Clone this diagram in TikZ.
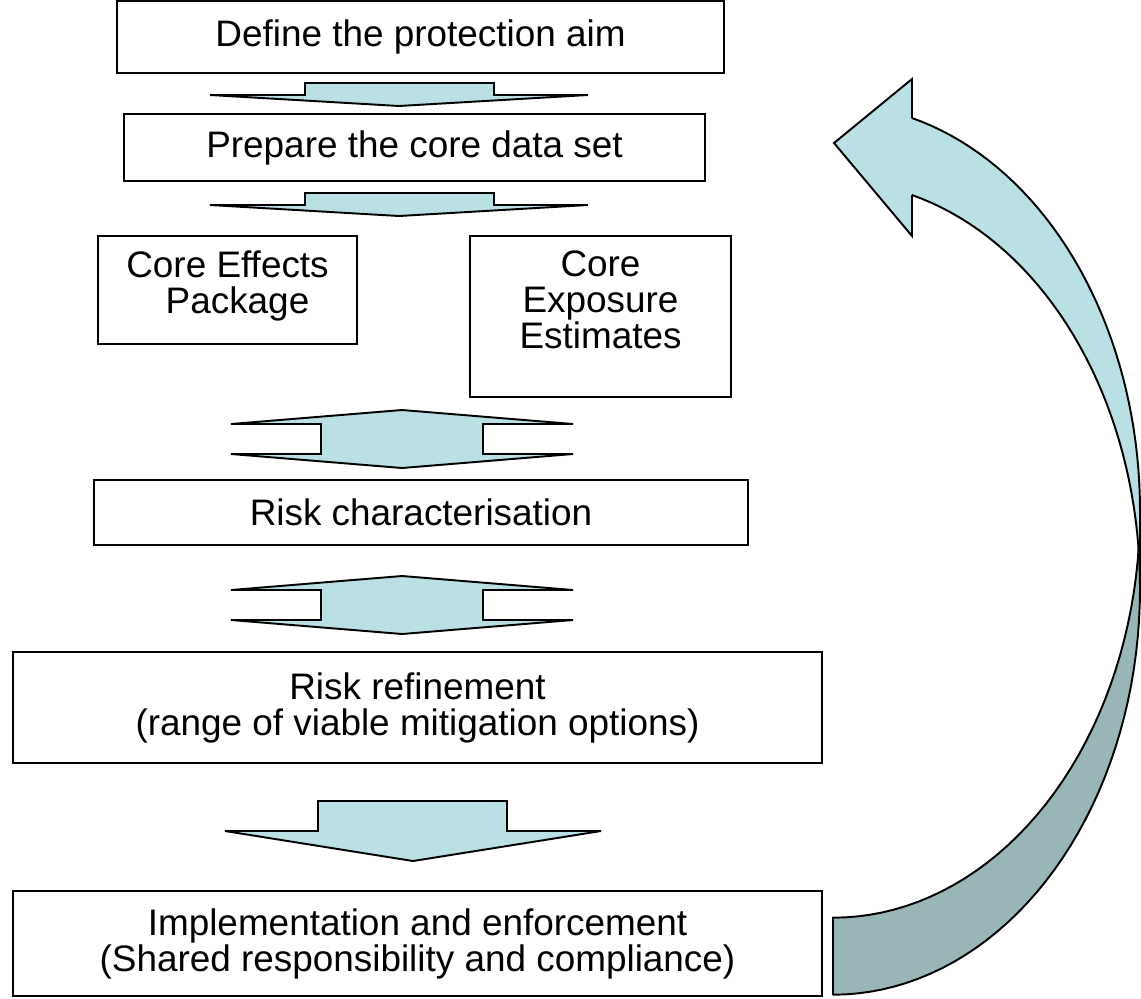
\documentclass[tikz,border=0pt]{standalone}
\usepackage{fontspec}
\setmainfont{Liberation Sans}
\usepackage{xcolor}
\usetikzlibrary{positioning}

\definecolor{arrowblue}{RGB}{185,224,228}
\definecolor{arrowgrey}{RGB}{152,181,183}

\tikzset{
	box/.style={draw=black, line width=1.1pt, fill=white, align=center, inner sep=0pt},
	boxtext/.style={align=center, inner sep=0pt},
	blockarrow/.style={draw=black, line width=1.1pt, fill=arrowblue, line join=miter},
	backarrow/.style={draw=black, line width=1.1pt, fill=arrowgrey},
}

\begin{document}
\begin{tikzpicture}[x=0.02cm, y=-0.02cm, font=\fontsize{21}{20.5}\selectfont]
	\fill[white] (0,0) rectangle (1141,998);
	\useasboundingbox (0,0) rectangle (1141,998);

	% steps of the procedure
	\node[box, minimum width=12.14cm, minimum height=1.44cm] (aim) at (420.5,37) {Define the protection aim};
	\node[box, minimum width=11.62cm, minimum height=1.34cm] (dataset) at (414.5,147.5) {Prepare the core data set};
	\node[box, minimum width=5.18cm, minimum height=2.16cm] (effects) at (227.5,290) {};
	\node[boxtext, below=0.31cm of effects.north] (effectstext) {Core Effects\\\hspace*{0.4cm}Package};
	\node[box, minimum width=5.22cm, minimum height=3.22cm] (exposure) at (600.5,316.5) {};
	\node[boxtext, below=0.31cm of exposure.north] (exposuretext) {Core\\Exposure\\Estimates};
	\node[box, minimum width=13.08cm, minimum height=1.30cm] (riskchar) at (421,512.5) {Risk characterisation};
	\node[box, minimum width=16.18cm, minimum height=2.22cm] (refine) at (417.5,707.5) {Risk refinement\\(range of viable mitigation options)};
	\node[box, minimum width=16.18cm, minimum height=2.10cm] (enforce) at (417.5,943.5) {Implementation and enforcement\\(Shared responsibility and compliance)};

	% flat arrows
	\foreach \y in {0,110}
		\draw[blockarrow, shift={(0,\y)}] (210,95) -- (305,95) -- (305,83) -- (494,83) -- (494,95) -- (588,95) -- (399,106) -- cycle;
	\foreach \y in {0,166}
		\draw[blockarrow, shift={(0,\y)}] (231,424) -- (402,410) -- (573,424) -- (483,424) -- (483,454) -- (573,454)
			-- (402,468) -- (231,454) -- (321,454) -- (321,424) -- cycle;
	\draw[blockarrow] (225,831) -- (318,831) -- (318,801) -- (507,801) -- (507,831) -- (601,831) -- (413,861) -- cycle;

	% curved arrow back to the top
	\draw[backarrow] plot[domain=0:90, samples=40, variable=\t] ({833+307*cos(\t)},{511+406.7*sin(\t)})
		-- (833,995) -- plot[domain=90:0, samples=40, variable=\t] ({833+307*cos(\t)},{588+406.7*sin(\t)}) -- cycle;
	\draw[blockarrow] (912,195) -- (912,236) -- (834,143) -- (912,79) -- (912,118)
		-- plot[domain=-75.1:0, samples=40, variable=\t] ({833+307*cos(\t)},{511+406.7*sin(\t)})
		-- plot[domain=0:-75.1, samples=40, variable=\t] ({833+307*cos(\t)},{588+406.7*sin(\t)}) -- cycle;
\end{tikzpicture}
\end{document}
